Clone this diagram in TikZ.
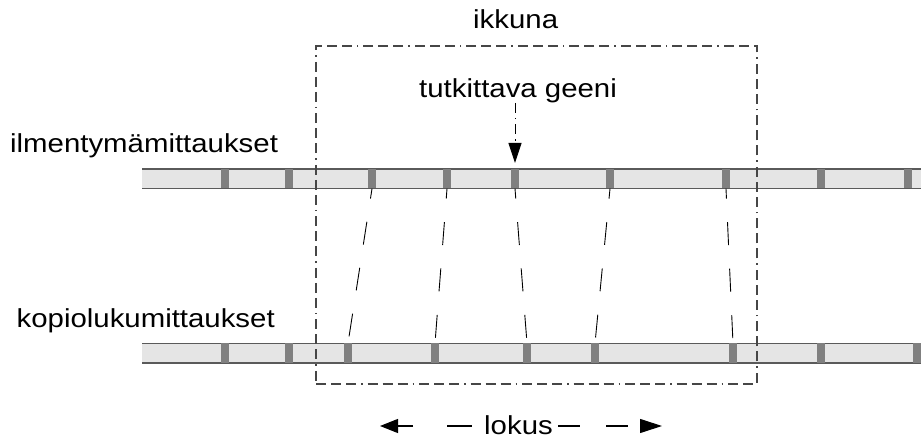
\documentclass[tikz,border=0pt]{standalone}
\usepackage{fontspec}
\setmainfont{Liberation Sans}[FakeStretch=1.13]
\usetikzlibrary{arrows.meta}
\definecolor{stripfill}{RGB}{229,229,229}
\definecolor{barfill}{RGB}{128,128,128}
\definecolor{stripline}{RGB}{90,90,90}
\definecolor{winline}{RGB}{70,70,70}
\begin{document}
\begin{tikzpicture}[x=1pt,y=-1pt,
  lbl/.style={inner sep=0pt,anchor=base west,font=\fontsize{26}{30}\selectfont},
  bar/.style={draw=none,fill=barfill,minimum width=8pt,minimum height=19.5pt,inner sep=0pt},
  stripbox/.style={fill=stripfill},
  stripedge/.style={draw=stripline,line width=1.5pt},
  winbox/.style={draw=winline,line width=1.1pt,dash pattern=on 10pt off 5pt on 10pt off 5pt on 10pt off 5pt on 1.5pt off 5pt},
  link/.style={draw=black,line width=0.9pt,dash pattern=on 23pt off 23.5pt,dash phase=13pt},
  genearrow/.style={draw=black,line width=0.9pt,dash pattern=on 10pt off 5pt on 1.5pt off 5pt,-{Triangle[length=20pt,width=13pt]}},
  lokline/.style={draw=black,line width=1.1pt}
]
\useasboundingbox (0,0) rectangle (921,443);
% strips
\fill[stripbox] (142,169) rectangle (921,188.5);
\draw[stripedge] (142,169) -- (921,169) (142,188.5) -- (921,188.5);
\fill[stripbox] (142,343.5) rectangle (921,363);
\draw[stripedge] (142,343.5) -- (921,343.5) (142,363) -- (921,363);
% bars top
\foreach \n/\x in {1/225,2/289,3/372,4/447,5/515,6/610,7/726,8/821,9/908}
  \node[bar] (t\n) at (\x,178.75) {};
% bars bottom
\foreach \n/\x in {1/225,2/289,3/348,4/435,5/527,6/595,7/733,8/821,9/917}
  \node[bar] (b\n) at (\x,353.25) {};
% window
\node[winbox,inner sep=0pt,minimum width=441pt,minimum height=338pt] (win) at (536.5,215) {};
% links
\foreach \n in {3,4,5,6,7}
  \draw[link] (t\n.south) -- (b\n.north);
% labels
\node[lbl] (ilm) at (10,153) {ilmentymämittaukset};
\node[lbl] (kop) at (16.5,328) {kopiolukumittaukset};
\node[lbl] (ikk) at (473,29) {ikkuna};
\node[lbl] (tg) at (419,98) {tutkittava geeni};
\node[lbl] (lok) at (484,434) {lokus};
% gene arrow
\coordinate (gs) at (515,103);
\coordinate (ge) at (515,163);
\draw[genearrow] (gs) -- (ge);
% lokus arrows
\coordinate (la) at (380,426);
\coordinate (lb) at (413,426);
\coordinate (lc) at (447,426);
\coordinate (ld) at (472,426);
\coordinate (ra) at (558,426);
\coordinate (rb) at (580,426);
\coordinate (rc) at (606,426);
\coordinate (rd) at (628,426);
\coordinate (re) at (640,426);
\coordinate (rf) at (662,426);
\draw[lokline,-{Triangle[length=18pt,width=14pt]}] (lb) -- (la);
\draw[lokline] (lc) -- (ld);
\draw[lokline] (ra) -- (rb);
\draw[lokline] (rc) -- (rd);
\draw[lokline,-{Triangle[length=22pt,width=14pt]}] (re) -- (rf);
\end{tikzpicture}
\end{document}
